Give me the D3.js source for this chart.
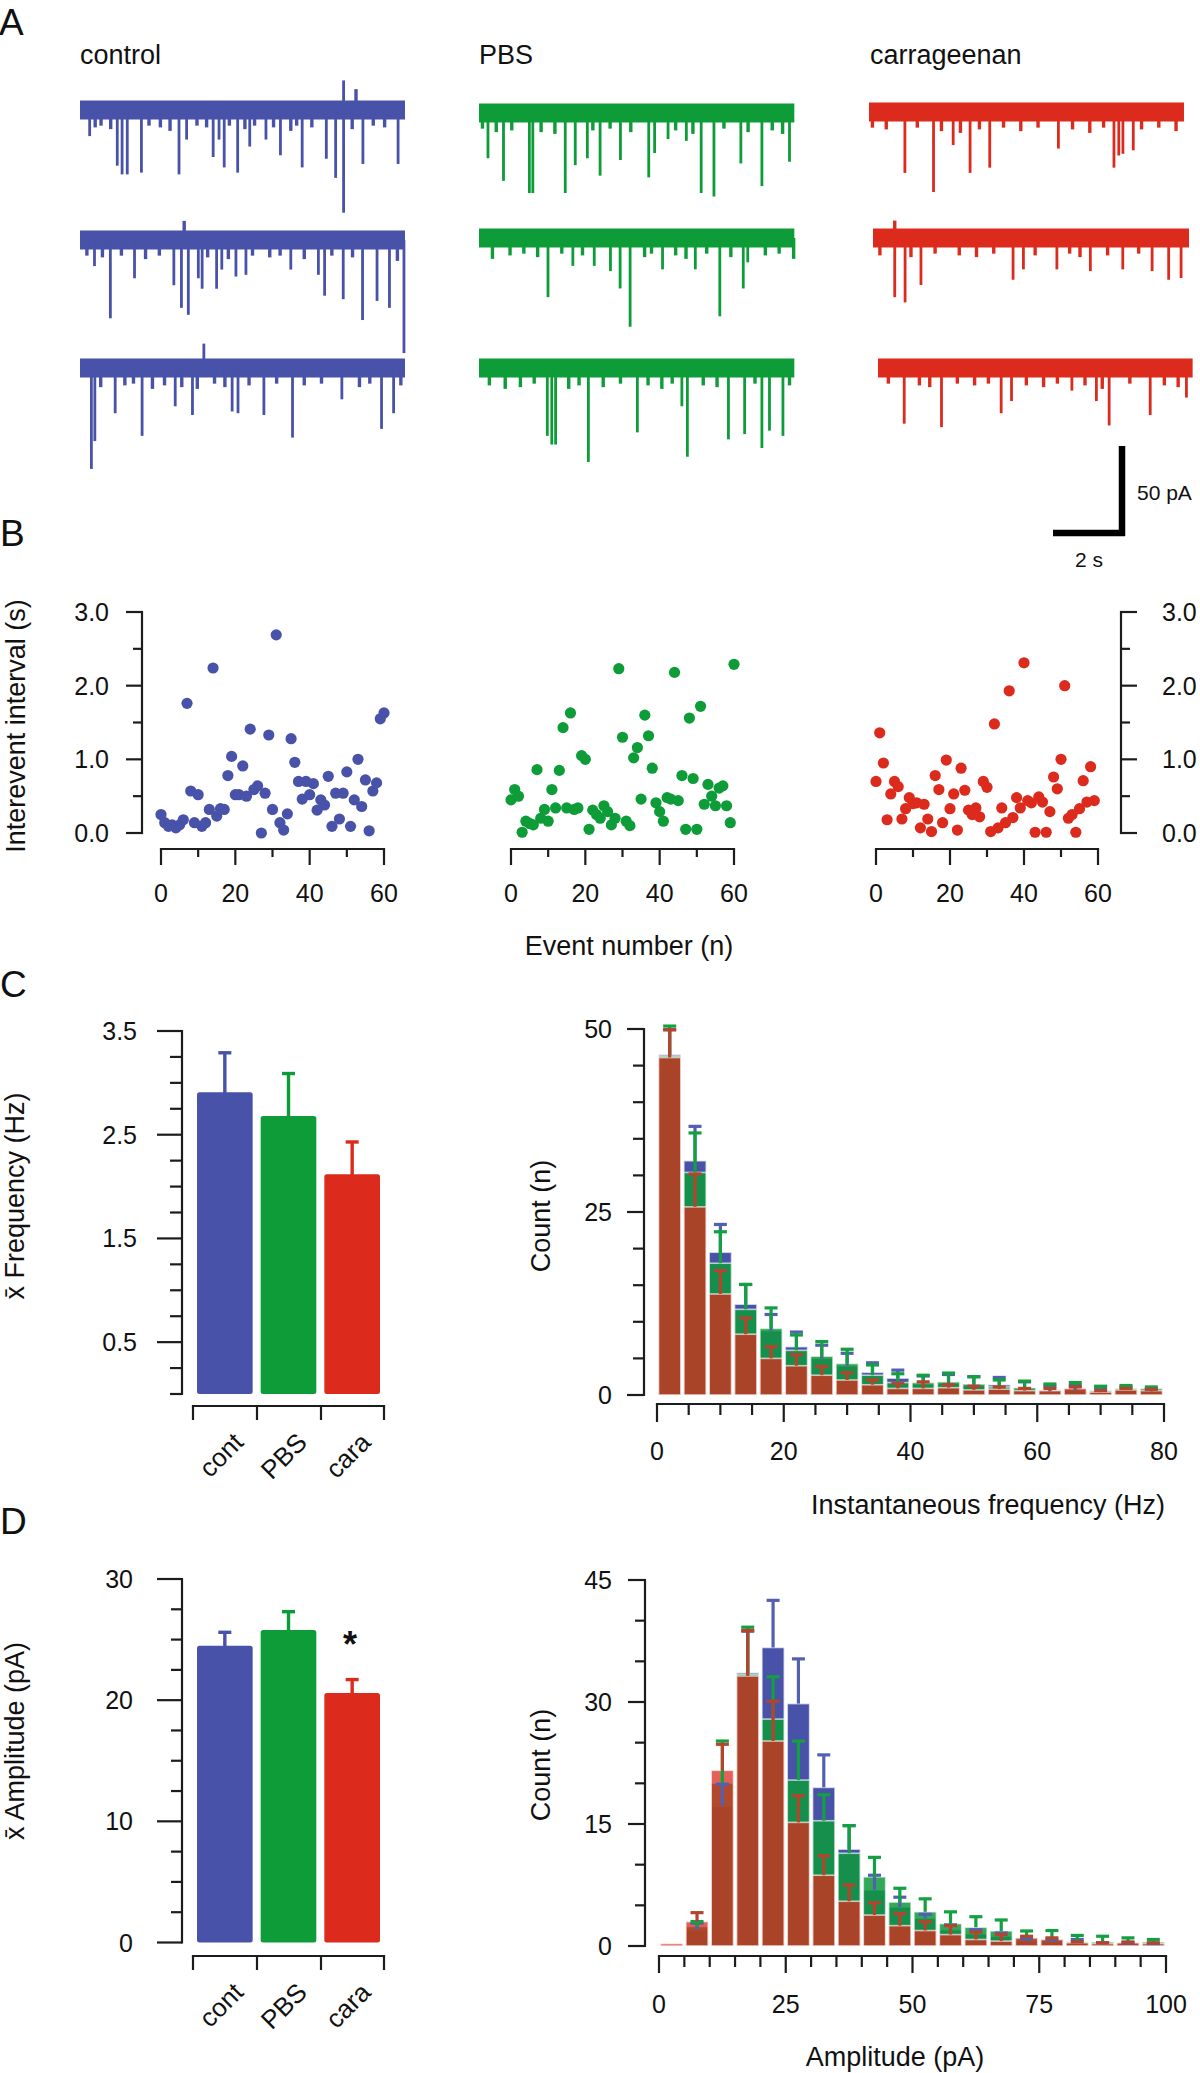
<!DOCTYPE html>
<html><head><meta charset="utf-8">
<script src="https://cdn.jsdelivr.net/npm/d3@7"></script>
<style>
body{margin:0;background:#fff;}
svg text{font-family:"Liberation Sans",Arial,Helvetica,sans-serif;fill:#111;}
</style></head><body>
<svg id="fig" width="1200" height="2073"></svg>
<script>
// ---------------- DATA ----------------
const conditionNames = ["control", "PBS", "carrageenan"];
// trace durations (s) per condition, 3 sweeps each
const traceDurations = [[9.42, 9.42, 9.42], [9.14, 9.14, 9.14], [9.13, 9.16, 9.12]];
// events: [time (s), amplitude (pA, positive = inward/downward)]
const controlTraceEvents = [
  [[0.28,15],[1.08,32],[1.22,37],[1.37,37],[1.78,36],[2.87,37],[3.09,17],[3.86,27],[4.03,17],[4.18,33],[4.57,36],[4.92,21],[5.39,17],[5.81,26],[6.44,33],[7.14,28],[7.41,39],[7.64,59],[8.2,31],[9.22,31],[7.64,-17],[8.0,-12],
   [0.44,10],[0.61,9],[0.89,11],[2.0,9],[2.33,10],[2.61,12],[3.39,9],[3.67,10],[4.33,9],[4.78,11],[5.06,9],[5.61,10],[6.11,12],[6.28,9],[6.72,10],[7.89,11],[8.5,9],[8.83,10]],
  [[0.42,15],[0.88,45],[1.58,22],[2.72,26],[2.94,39],[3.14,43],[3.43,22],[3.54,28],[3.96,28],[4.11,17],[4.52,21],[4.81,20],[6.11,17],[6.91,20],[7.09,32],[7.63,34],[8.19,46],[8.61,35],[8.97,39],[9.39,65],[3.02,-11],
   [0.2,9],[0.65,10],[1.2,9],[1.9,11],[2.3,9],[3.7,10],[4.3,11],[5.0,9],[5.5,10],[5.8,9],[6.5,11],[7.3,9],[7.9,10],[9.2,12]],
  [[0.33,58],[0.43,42],[1.02,26],[1.8,39],[2.76,22],[3.26,27],[4.41,25],[4.58,26],[5.33,27],[6.16,40],[7.59,18],[8.74,35],[9.09,26],[3.59,-14],
   [0.6,11],[1.3,10],[1.55,9],[2.1,12],[2.45,10],[2.95,11],[3.4,12],[3.9,9],[4.2,11],[4.9,10],[5.7,9],[6.5,10],[7.0,9],[8.1,11],[8.4,9],[9.3,10]]
];
const pbsTraceEvents = [
  [[0.26,26],[0.71,39],[1.46,46],[1.56,46],[2.5,46],[2.79,30],[3.14,26],[3.51,36],[4.1,27],[4.92,37],[5.09,23],[5.48,15],[6.01,16],[6.44,46],[6.81,48],[7.59,29],[8.2,42],[9.0,28],
   [0.1,9],[0.5,11],[0.95,10],[1.8,11],[2.2,12],[3.3,10],[3.8,9],[4.4,11],[5.7,10],[6.2,12],[7.1,9],[7.8,11],[8.5,10],[8.8,12]],
  [[0.39,12],[2.0,34],[2.72,16],[3.34,16],[3.81,19],[4.09,29],[4.38,51],[5.32,18],[6.27,18],[6.98,45],[7.66,29],[7.79,14],[9.12,12],
   [0.9,10],[1.3,9],[1.7,11],[2.4,9],[3.0,10],[4.8,11],[5.0,9],[5.7,10],[6.0,12],[6.6,9],[7.3,11],[8.3,10],[8.7,9]],
  [[0.76,12],[1.98,39],[2.11,44],[2.22,44],[3.17,54],[4.59,37],[5.88,22],[6.04,51],[7.23,41],[7.7,38],[8.2,46],[8.42,36],[8.81,39],
   [0.3,10],[1.2,11],[1.6,9],[2.6,12],[2.9,10],[3.6,11],[4.1,9],[4.9,10],[5.3,12],[5.6,9],[6.5,10],[6.9,11],[8.0,9],[9.0,10]]
];
const caraTraceEvents = [
  [[1.04,35],[1.87,46],[2.44,19],[2.93,35],[3.5,32],[5.49,21],[7.1,32],[7.24,25],[7.36,24],[7.66,22],
   [0.1,9],[0.5,10],[1.4,9],[2.1,11],[2.65,12],[3.2,10],[3.9,9],[4.4,11],[4.9,9],[5.9,10],[6.4,12],[6.8,9],[7.9,10],[8.4,9],[8.9,11]],
  [[0.63,34],[0.93,37],[1.39,27],[4.06,24],[4.36,18],[5.33,18],[6.3,19],[7.24,18],[8.09,19],[8.57,24],[8.93,23],[0.63,-10],
   [0.2,10],[1.1,11],[1.8,9],[2.5,10],[3.0,11],[3.5,9],[4.7,10],[5.7,9],[6.0,11],[6.8,10],[7.7,9]],
  [[0.76,32],[1.84,34],[3.57,26],[3.87,19],[5.62,13],[6.33,19],[6.7,33],[7.89,27],[8.94,17],
   [0.3,9],[1.2,10],[1.5,11],[2.3,9],[2.8,10],[3.2,9],[4.3,10],[4.8,11],[5.2,9],[6.0,10],[6.5,12],[7.3,9],[8.3,10],[8.7,11]]
];
const scaleBarValues = { pA: 50, s: 2 };

// Panel B: interevent interval (s) per event number n = 0,1,2,...
const intervalControl = [0.25,0.14,0.09,0.11,0.07,0.11,0.18,1.76,0.57,0.14,0.52,0.09,0.14,0.32,2.24,0.23,0.33,0.32,0.78,1.04,0.52,0.52,0.91,0.50,1.41,0.59,0.64,0.00,0.54,1.33,0.32,2.69,0.14,0.04,0.26,1.28,0.96,0.70,0.46,0.70,0.52,0.67,0.31,0.45,0.38,0.77,0.09,0.54,0.19,0.54,0.83,0.09,0.45,1.00,0.36,0.72,0.03,0.57,0.68,1.55,1.63];
const intervalPBS = [0.45,0.59,0.50,0.01,0.16,0.13,0.11,0.86,0.20,0.32,0.16,0.59,0.34,0.85,1.43,0.34,1.63,0.32,0.34,1.05,1.00,0.05,0.31,0.25,0.20,0.37,0.29,0.11,0.20,2.23,1.30,0.16,0.10,1.02,1.16,0.46,1.60,1.32,0.88,0.41,0.29,0.16,0.48,0.46,2.18,0.44,0.78,0.05,1.56,0.74,0.05,1.72,0.39,0.66,0.50,0.37,0.61,0.64,0.37,0.14,2.29];
const intervalCara = [0.70,1.36,0.95,0.18,0.53,0.70,0.63,0.19,0.33,0.48,0.40,0.41,0.07,0.39,0.19,0.02,0.78,0.59,0.14,0.99,0.33,0.53,0.04,0.88,0.58,0.31,0.25,0.34,0.22,0.70,0.62,0.02,1.48,0.07,0.34,0.14,1.93,0.21,0.48,0.34,2.31,0.44,0.41,0.01,0.49,0.42,0.01,0.29,0.76,0.60,1.00,2.00,0.20,0.25,0.01,0.33,0.71,0.42,0.90,0.44];
const eventTicks = [0, 20, 40, 60];
const intervalTicks = [0, 1, 2, 3];

// Panel C/D bar charts
const barCats = ["cont", "PBS", "cara"];
const freqMean = [2.91, 2.68, 2.12];
const freqSEM  = [0.38, 0.41, 0.31];
const freqTicks = [0.5, 1.5, 2.5, 3.5];
const ampMean = [24.5, 25.8, 20.6];
const ampSEM  = [1.1, 1.5, 1.1];
const ampTicks = [0, 10, 20, 30];

// Panel C histogram: instantaneous frequency, bins of 4 Hz from 0 to 80
const freqBinWidth = 4;
const freqHistControl = [46.5, 32.0, 19.5, 12.4, 8.8, 6.6, 5.0, 4.0, 3.1, 2.3, 1.5, 1.6, 1.3, 1.4, 0.9, 0.5, 0.6, 0.4, 0.7, 0.5];
const freqHistControlSEM = [3.4, 4.7, 3.8, 2.7, 2.2, 2.0, 1.8, 1.7, 1.3, 1.1, 1.1, 1.2, 1.2, 1.0, 0.9, 0.7, 0.7, 0.6, 0.4, 0.3];
const freqHistPBS = [46.3, 30.4, 18.0, 11.7, 9.1, 6.1, 5.3, 4.3, 2.7, 1.7, 1.7, 1.8, 1.5, 1.1, 1.0, 0.7, 0.8, 0.6, 0.9, 0.9];
const freqHistPBSSEM = [4.1, 5.4, 4.3, 3.4, 2.8, 2.1, 2.0, 1.95, 1.4, 1.2, 1.0, 1.2, 1.0, 0.95, 0.9, 0.8, 0.9, 0.6, 0.4, 0.2];
const freqHistCara = [46.1, 25.7, 13.8, 8.3, 5.0, 4.0, 2.7, 2.05, 1.4, 0.9, 0.9, 1.0, 0.7, 0.8, 0.6, 0.6, 0.9, 0.4, 0.7, 0.6];
const freqHistCaraSEM = [3.8, 4.5, 3.2, 2.2, 1.6, 1.5, 1.2, 1.0, 0.65, 0.7, 0.9, 0.4, 0.5, 0.3, 0.3, 0.3, 0.2, 0.2, 0.2, 0.2];
const freqHistXTicks = [0, 20, 40, 60, 80];
const freqHistYTicks = [0, 25, 50];

// Panel D histogram: amplitude, bins of 5 pA from 0 to 100
const ampBinWidth = 5;
const ampHistControl = [0, 2.0, 17.2, 33.6, 36.7, 29.8, 19.5, 11.9, 6.9, 4.8, 3.4, 2.0, 1.5, 1.2, 0.6, 0.5, 0.5, 0.2, 0.2, 0.2];
const ampHistControlSEM = [0, 0.8, 2.7, 5.1, 5.8, 5.5, 4.0, 2.9, 1.8, 1.2, 0.5, 0.6, 0.5, 0.4, 0.3, 0.3, 0.3, 0.2, 0.2, 0.1];
const ampHistPBS = [0, 2.4, 20.0, 33.4, 27.9, 20.4, 15.4, 11.4, 8.5, 5.4, 4.2, 2.75, 2.3, 1.85, 0.9, 0.8, 0.5, 0.5, 0.4, 0.5];
const ampHistPBSSEM = [0, 0.6, 5.2, 5.8, 5.2, 4.8, 3.2, 3.4, 2.4, 1.7, 1.6, 1.45, 1.3, 1.35, 0.95, 1.1, 0.8, 0.7, 0.6, 0.3];
const ampHistCara = [0.3, 3.0, 21.6, 33.2, 25.2, 15.2, 8.7, 5.5, 3.8, 2.5, 1.9, 1.4, 0.8, 0.6, 1.0, 0.8, 0.4, 0.3, 0.4, 0.3];
const ampHistCaraSEM = [0, 1.1, 3.2, 5.6, 4.9, 3.3, 2.4, 2.0, 1.5, 1.5, 1.1, 1.1, 0.9, 0.8, 0.2, 0.2, 0.1, 0.1, 0.1, 0.1];
const ampHistXTicks = [0, 25, 50, 75, 100];
const ampHistYTicks = [0, 15, 30, 45];

// ---------------- STYLE ----------------
const colBlue = "#4752A8", colGreen = "#0D9C37", colRed = "#DC2B1D";
const condColors = [colBlue, colGreen, colRed];
const AX = "#1c1c1c", AXW = 2.2;
const FT = 25, FTITLE = 27, FLET = 37;

const svg = d3.select("#fig");

function ln(g, x1, y1, x2, y2, stroke, w, cap) {
  return g.append("line").attr("x1", x1).attr("y1", y1).attr("x2", x2).attr("y2", y2)
    .attr("stroke", stroke).attr("stroke-width", w).attr("stroke-linecap", cap || "butt");
}
function tx(g, x, y, s, size, anchor, o) {
  o = o || {};
  const t = g.append("text").attr("x", x).attr("y", y).attr("font-size", size)
    .attr("text-anchor", anchor || "start").text(s);
  if (o.dy) t.attr("dy", o.dy);
  if (o.weight) t.attr("font-weight", o.weight);
  if (o.transform) t.attr("transform", o.transform);
  return t;
}
function range(a, b, step) { const r = []; for (let v = a; v <= b + 1e-9; v += step) r.push(+v.toFixed(4)); return r; }

function yAxis(g, y, xPos, step, majors, majorLen, minorLen, dir, fmt, labelX, anchor) {
  const [d0, d1] = y.domain();
  ln(g, xPos, y(d0), xPos, y(d1), AX, AXW, "square");
  range(d0, d1, step).forEach(v => {
    const isMaj = majors.some(m => Math.abs(m - v) < 1e-6);
    ln(g, xPos, y(v), xPos + dir * (isMaj ? majorLen : minorLen), y(v), AX, AXW);
  });
  majors.forEach(v => tx(g, labelX, y(v), fmt(v), FT, anchor, { dy: "0.36em" }));
}
function xAxis(g, x, yPos, step, majors, majorLen, minorLen, fmt, labelY) {
  const [d0, d1] = x.domain();
  ln(g, x(d0), yPos, x(d1), yPos, AX, AXW, "square");
  range(d0, d1, step).forEach(v => {
    const isMaj = majors.some(m => Math.abs(m - v) < 1e-6);
    ln(g, x(v), yPos, x(v), yPos + (isMaj ? majorLen : minorLen), AX, AXW);
  });
  if (fmt) majors.forEach(v => tx(g, x(v), labelY, fmt(v), FT, "middle"));
}

// ---------------- PANEL A ----------------
const gA = svg.append("g");
tx(gA, -1, 35, "A", FLET);
const labelX = [80, 479, 870];
conditionNames.forEach((c, i) => tx(gA, labelX[i], 64, c, FTITLE));
const traceStartX = [[80, 80, 80], [479, 479, 479], [869, 873, 878]];
const traceCenterY = [[110, 240, 368], [113, 238, 368], [112, 238, 368]];
const allEvents = [controlTraceEvents, pbsTraceEvents, caraTraceEvents];
const pxPerSec = 34.5, pxPerPA = 87 / 50;
allEvents.forEach((sweeps, ci) => {
  sweeps.forEach((ev, si) => {
    const dur = traceDurations[ci][si];
    const x0 = traceStartX[ci][si], yc = traceCenterY[ci][si];
    const x = d3.scaleLinear().domain([0, dur]).range([x0, x0 + dur * pxPerSec]);
    const y = d3.scaleLinear().domain([0, 50]).range([yc, yc + 50 * pxPerPA]);
    const col = condColors[ci];
    ln(gA, x(0), yc, x(dur), yc, col, 19);
    gA.selectAll(null).data(ev).join("line")
      .attr("x1", d => x(d[0])).attr("x2", d => x(d[0]))
      .attr("y1", yc).attr("y2", d => y(d[1]))
      .attr("stroke", col).attr("stroke-width", d => Math.abs(d[1]) < 13 ? 3.4 : 2.8);
  });
});
// scale bar
{
  const cx = 1122, cy = 533;
  const ys = d3.scaleLinear().domain([0, scaleBarValues.pA]).range([0, 50 * pxPerPA]);
  const xs = d3.scaleLinear().domain([0, scaleBarValues.s]).range([0, scaleBarValues.s * pxPerSec]);
  ln(gA, cx, cy + 3, cx, cy - ys(scaleBarValues.pA), "#000", 6.5);
  ln(gA, cx + 3, cy, cx - xs(scaleBarValues.s), cy, "#000", 6.5);
  tx(gA, 1137, 500, scaleBarValues.pA + " pA", 21);
  tx(gA, 1089, 567, scaleBarValues.s + " s", 21, "middle");
}

// ---------------- PANEL B ----------------
const gB = svg.append("g");
tx(gB, 0, 546, "B", FLET);
const yB = d3.scaleLinear().domain([0, 3]).range([833, 612]);
const scatterRanges = [[161, 384], [511, 734], [876, 1098]];
const intervals = [intervalControl, intervalPBS, intervalCara];
intervals.forEach((vals, i) => {
  const x = d3.scaleLinear().domain([0, 60]).range(scatterRanges[i]);
  gB.selectAll(null).data(vals).join("circle")
    .attr("cx", (d, n) => x(n)).attr("cy", d => yB(d)).attr("r", 5.6)
    .attr("fill", condColors[i]);
  xAxis(gB, x, 849, 10, eventTicks, 16, 8, d3.format("d"), 902);
});
yAxis(gB, yB, 142, 0.5, intervalTicks, 16, 9, -1, d3.format(".1f"), 109, "end");
yAxis(gB, yB, 1121, 0.5, intervalTicks, 16, 9, 1, d3.format(".1f"), 1162, "start");
tx(gB, 0, 0, "Interevent interval (s)", FTITLE, "middle", { transform: "translate(25,726) rotate(-90)" });
tx(gB, 629, 955, "Event number (n)", FTITLE, "middle");

// ---------------- BAR CHARTS ----------------
function barChart(g, y, mean, sem, xAxisY, tickStep, majors, majorLen, minorLen, labelX, fmt, title, titleY) {
  const xb = d3.scaleBand().domain(barCats).range([193, 384]);
  g.selectAll(null).data(barCats).join("rect")
    .attr("x", c => xb(c) + 4).attr("width", xb.bandwidth() - 8)
    .attr("y", (c, i) => y(mean[i])).attr("height", (c, i) => y(0) - y(mean[i]))
    .attr("rx", 2.5).attr("fill", (c, i) => condColors[i]);
  barCats.forEach((c, i) => {
    const cx = xb(c) + xb.bandwidth() / 2;
    ln(g, cx, y(mean[i]) + 1, cx, y(mean[i] + sem[i]), condColors[i], 3.4);
    ln(g, cx - 6.5, y(mean[i] + sem[i]), cx + 6.5, y(mean[i] + sem[i]), condColors[i], 3.4);
  });
  yAxis(g, y, 182, tickStep, majors, majorLen, minorLen, -1, fmt, labelX, "end");
  ln(g, 193, xAxisY, 384, xAxisY, AX, AXW, "square");
  [193, 257, 321, 384].forEach(v => ln(g, v, xAxisY, v, xAxisY + 14, AX, AXW));
  barCats.forEach(c => {
    const cx = xb(c) + xb.bandwidth() / 2;
    tx(g, 0, 0, c, 26, "end", { transform: `translate(${cx + 20},${xAxisY + 38}) rotate(-45)` });
  });
  tx(g, 0, 0, title, FTITLE, "middle", { transform: `translate(24,${titleY}) rotate(-90)` });
}
const gC = svg.append("g");
tx(gC, 0, 997, "C", FLET);
const yCbar = d3.scaleLinear().domain([0, 3.5]).range([1394, 1031]);
barChart(gC, yCbar, freqMean, freqSEM, 1406, 0.25, freqTicks, 25, 12, 137, d3.format(".1f"), "x\u0304 Frequency (Hz)", 1196);

const gD = svg.append("g");
tx(gD, 0, 1534, "D", FLET);
const yDbar = d3.scaleLinear().domain([0, 30]).range([1942.5, 1579]);
barChart(gD, yDbar, ampMean, ampSEM, 1956, 2.5, ampTicks, 25, 11, 133, d3.format("d"), "x\u0304 Amplitude (pA)", 1741);
tx(gD, 350, 1657, "*", 36, "middle", { weight: "bold" });

// ---------------- HISTOGRAMS ----------------
function histogram(g, x, y, bw, series) {
  series.forEach(s => {
    g.selectAll(null).data(s.vals).join("rect")
      .attr("x", (d, i) => x(i * bw) + 1.5)
      .attr("width", (d, i) => x((i + 1) * bw) - x(i * bw) - 3)
      .attr("y", d => y(d)).attr("height", d => y(0) - y(d))
      .attr("fill", s.color).attr("fill-opacity", s.op)
      .attr("stroke", "#ffffff").attr("stroke-opacity", 0.65).attr("stroke-width", 1.6);
  });
  series.forEach(s => {
    s.vals.forEach((v, i) => {
      if (!s.sem[i]) return;
      const cx = x((i + 0.5) * bw);
      ln(g, cx, y(v), cx, y(v + s.sem[i]), s.err, 3.2);
      ln(g, cx - 6.5, y(v + s.sem[i]), cx + 6.5, y(v + s.sem[i]), s.err, 3.2);
    });
  });
}
{
  const x = d3.scaleLinear().domain([0, 80]).range([657, 1164]);
  const y = d3.scaleLinear().domain([0, 50]).range([1395, 1029]);
  histogram(gC, x, y, freqBinWidth, [
    { vals: freqHistControl, sem: freqHistControlSEM, color: colBlue, op: 1, err: "#5360B2" },
    { vals: freqHistPBS, sem: freqHistPBSSEM, color: "#0E9A3C", op: 0.85, err: "#13A040" },
    { vals: freqHistCara, sem: freqHistCaraSEM, color: colRed, op: 0.75, err: "#B2452C" }
  ]);
  yAxis(gC, y, 644, 5, freqHistYTicks, 17, 11, -1, d3.format("d"), 612, "end");
  xAxis(gC, x, 1404, 5, freqHistXTicks, 18, 11, d3.format("d"), 1460);
  tx(gC, 0, 0, "Count (n)", FTITLE, "middle", { transform: "translate(550,1216) rotate(-90)" });
  tx(gC, 988, 1514, "Instantaneous frequency (Hz)", FTITLE, "middle");
}
{
  const x = d3.scaleLinear().domain([0, 100]).range([659, 1166]);
  const y = d3.scaleLinear().domain([0, 45]).range([1946, 1580]);
  histogram(gD, x, y, ampBinWidth, [
    { vals: ampHistControl, sem: ampHistControlSEM, color: colBlue, op: 1, err: "#5360B2" },
    { vals: ampHistPBS, sem: ampHistPBSSEM, color: "#0E9A3C", op: 0.85, err: "#13A040" },
    { vals: ampHistCara, sem: ampHistCaraSEM, color: colRed, op: 0.75, err: "#B2452C" }
  ]);
  yAxis(gD, y, 645, 5, ampHistYTicks, 17, 10, -1, d3.format("d"), 612, "end");
  xAxis(gD, x, 1956, 5, ampHistXTicks, 17, 11, d3.format("d"), 2013);
  tx(gD, 0, 0, "Count (n)", FTITLE, "middle", { transform: "translate(550,1765) rotate(-90)" });
  tx(gD, 895, 2066, "Amplitude (pA)", FTITLE, "middle");
}
</script></body></html>
